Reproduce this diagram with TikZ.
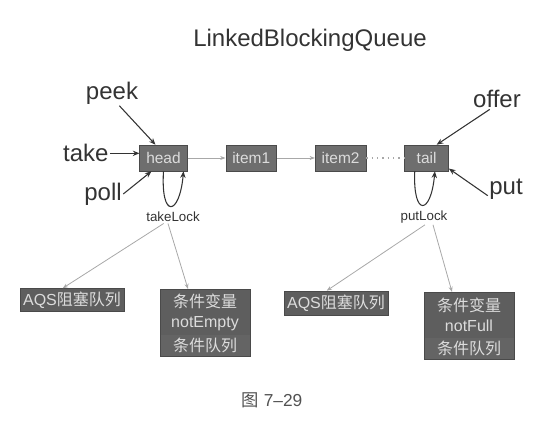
\documentclass[tikz,border=0pt]{standalone}
\usepackage{fontspec}
\setmainfont{Liberation Sans}
\newfontfamily\cjk{Noto Sans CJK SC}
\usetikzlibrary{positioning,arrows.meta}

\definecolor{boxfill}{HTML}{6E6E6E}
\definecolor{boxdark}{HTML}{5E5E5E}
\definecolor{boxlow}{HTML}{646464}
\definecolor{boxline}{HTML}{4A4A4A}
\definecolor{boxtext}{HTML}{DCDCDC}
\definecolor{inktext}{HTML}{333333}
\definecolor{thinline}{HTML}{A8A8A8}

\tikzset{
	qnode/.style={draw=boxline, fill=boxfill, text=boxtext, minimum width=33pt,
		minimum height=19.5pt, inner xsep=4.9pt, font=\fontsize{11.6}{13}\selectfont},
	opname/.style={text=inktext, inner sep=1pt, font=\fontsize{18}{20}\selectfont},
	lockname/.style={text=inktext, inner sep=1pt, font=\fontsize{10}{12}\selectfont},
	qbox/.style={draw=boxline, fill=boxdark, text=boxtext, align=center,
		inner sep=2pt, font=\fontsize{12}{15}\selectfont},
	condpart/.style={qbox, draw=none, outer sep=0pt, minimum width=67.5pt},
	oparrow/.style={draw=inktext, line width=0.8pt, -{Stealth[length=5pt,width=4pt]}},
	grayarrow/.style={draw=thinline, line width=0.6pt, -{Stealth[length=4pt,width=3pt]}},
}

\begin{document}
\begin{tikzpicture}[x=0.75pt,y=-0.75pt]
	\useasboundingbox (0,0) rectangle (556,423);
	%%%%%%%%%%%%%%%%% title %%%%%%%%%%%%%%%%%%%%%%%
	\node[text=inktext, font=\fontsize{18}{20}\selectfont] (title) at (310,40) {LinkedBlockingQueue};
	
	%%%%%%%%%%%%%%%%% queue nodes %%%%%%%%%%%%%%%%%
	\node[qnode] (head) at (163.5,158) {head};
	\foreach \name [remember=\name as \last (initially head)] in {item1,item2,tail}
	{\node[qnode, right=28.5pt of \last] (\name) {\name};}
	
	\foreach \a/\b in {head/item1,item1/item2}
	{\draw[grayarrow] (\a) -- (\b);}
	\draw[thinline, line width=0.8pt, dash pattern=on 1pt off 3pt] (item2) -- (tail);
	
	%%%%%%%%%%%%%%%%% operations %%%%%%%%%%%%%%%%%%
	\node[opname] (peek) at (112,93) {peek};
	\node[opname, left=22pt of head, yshift=3.5pt] (take) {take};
	\node[opname] (poll) at (103,194) {poll};
	\node[opname] (offer) at (497,99) {offer};
	\node[opname] (put) at (506,189) {put};
	
	\draw[oparrow] (peek.-60) -- ([xshift=-6pt]head.north);
	\draw[oparrow] (take.east) -- (take.east -| head.west);
	\draw[oparrow] (poll.east) -- ([xshift=9pt]head.south west);
	\draw[oparrow] (offer.-125) -- ([xshift=7.5pt]tail.north);
	\draw[oparrow] (put.200) -- ([yshift=2pt]tail.south east);
	
	% lock loops under head and tail
	\draw[oparrow] (head.south) .. controls +(-3,48) and +(-4,45) .. ([xshift=15pt]head.south);
	\draw[oparrow] ([xshift=-8.9pt]tail.south) .. controls +(-2,46) and +(-4,44) .. ([xshift=6.2pt]tail.south);
	
	\node[lockname] (takeLock) at (173,217) {takeLock};
	\node[lockname] (putLock) at (424,217) {putLock};
	
	%%%%%%%%%%%%%%%%% lock queues %%%%%%%%%%%%%%%%%
	\node[qbox, minimum width=78pt, minimum height=17.25pt] (aqsTake) at (72,300) {AQS{\cjk 阻塞队列}};
	\node[condpart, minimum height=34.5pt] (notEmpty) at (205,312) {{\cjk 条件变量}\\notEmpty};
	\node[condpart, fill=boxlow, minimum height=15.75pt, below=0pt of notEmpty] (condTake) {{\cjk 条件队列}};
	\draw[boxline] (notEmpty.north west) rectangle (condTake.south east);
	
	\node[qbox, minimum width=78pt, minimum height=18pt] (aqsPut) at (336,303) {AQS{\cjk 阻塞队列}};
	\node[condpart, minimum height=34.5pt] (notFull) at (469,315) {{\cjk 条件变量}\\notFull};
	\node[condpart, fill=boxlow, minimum height=15.75pt, below=0pt of notFull] (condPut) {{\cjk 条件队列}};
	\draw[boxline] (notFull.north west) rectangle (condPut.south east);
	
	\foreach \lock/\aqs/\cond/\sa/\sb in
	{takeLock/aqsTake/notEmpty/-7pt/-3.75pt, putLock/aqsPut/notFull/0.75pt/6.75pt}
	{\draw[grayarrow] ([xshift=\sa]\lock.south) -- ([xshift=-7pt]\aqs.north);
		\draw[grayarrow] ([xshift=\sb]\lock.south) -- ([xshift=-12.75pt]\cond.north);}
	
	%%%%%%%%%%%%%%%%% caption %%%%%%%%%%%%%%%%%%%%%
	\node[text=inktext!85, font=\fontsize{13}{15}\selectfont] (caption) at (272,400) {{\cjk 图} 7–29};
\end{tikzpicture}
\end{document}
